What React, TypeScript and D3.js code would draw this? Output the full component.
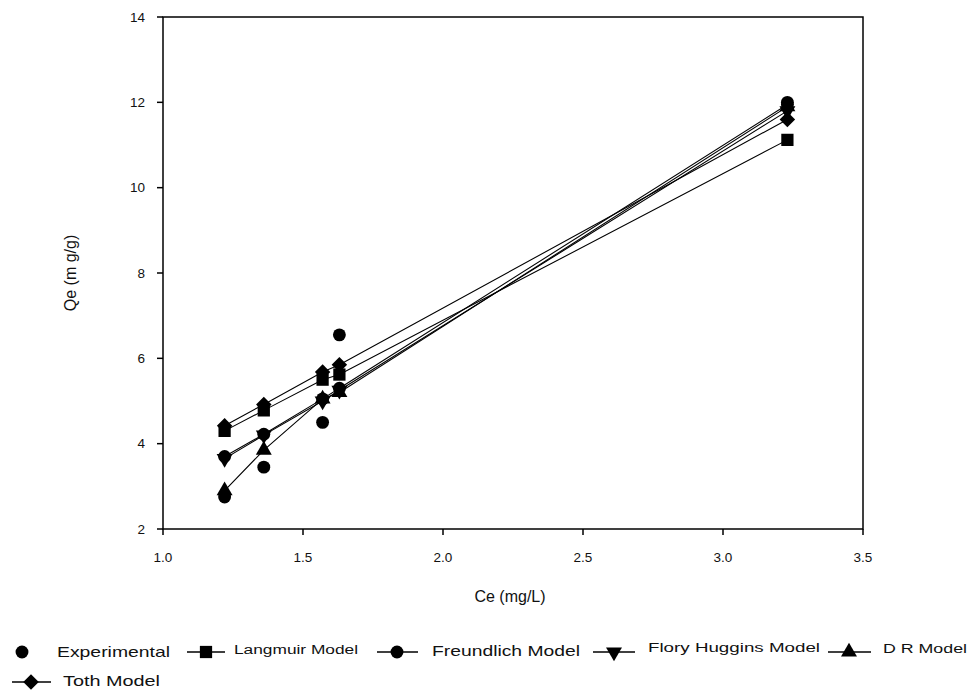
import React from "react";
import * as d3 from "d3";

const ceValues = [1.22, 1.36, 1.57, 1.63, 3.23];
const experimental = [2.75, 3.45, 4.5, 6.55, 12.0];
const langmuir = [4.3, 4.78, 5.5, 5.62, 11.12];
const freundlich = [3.7, 4.22, 5.05, 5.3, 11.95];
const floryHuggins = [3.65, 4.2, 5.0, 5.25, 11.8];
const drModel = [2.9, 3.85, 5.05, 5.2, 11.9];
const toth = [4.42, 4.92, 5.68, 5.85, 11.6];
const xTicks = [1.0, 1.5, 2.0, 2.5, 3.0, 3.5];
const yTicks = [2, 4, 6, 8, 10, 12, 14];

type Shape = "circle" | "square" | "triangle" | "invtriangle" | "diamond";

const series: { name: string; values: number[]; shape: Shape; line: boolean }[] = [
  { name: "Experimental", values: experimental, shape: "circle", line: false },
  { name: "Langmuir Model", values: langmuir, shape: "square", line: true },
  { name: "Freundlich Model", values: freundlich, shape: "circle", line: true },
  { name: "Flory Huggins Model", values: floryHuggins, shape: "invtriangle", line: true },
  { name: "D R Model", values: drModel, shape: "triangle", line: true },
  { name: "Toth Model", values: toth, shape: "diamond", line: true },
];

const symbolPath = (shape: Shape) => {
  switch (shape) {
    case "circle":
      return { d: d3.symbol(d3.symbolCircle, 130)() as string, rot: 0 };
    case "square":
      return { d: d3.symbol(d3.symbolSquare, 150)() as string, rot: 0 };
    case "triangle":
      return { d: d3.symbol(d3.symbolTriangle, 110)() as string, rot: 0 };
    case "invtriangle":
      return { d: d3.symbol(d3.symbolTriangle, 110)() as string, rot: 180 };
    case "diamond":
      return { d: d3.symbol(d3.symbolSquare, 120)() as string, rot: 45 };
  }
};

const Marker = ({ x, y, shape }: { x: number; y: number; shape: Shape }) => {
  const s = symbolPath(shape);
  return <path d={s.d} transform={`translate(${x},${y}) rotate(${s.rot})`} fill="#000" />;
};

const legendItems = [
  { idx: 0, sym: 22, lineFrom: 0, lineTo: 0, tx: 57, tw: 113, fs: 15, y: 652 },
  { idx: 1, sym: 206, lineFrom: 187, lineTo: 225, tx: 234, tw: 124, fs: 12, y: 650 },
  { idx: 2, sym: 397, lineFrom: 377, lineTo: 418, tx: 432, tw: 148, fs: 15, y: 651 },
  { idx: 3, sym: 614, lineFrom: 593, lineTo: 635, tx: 648, tw: 172, fs: 12, y: 648 },
  { idx: 4, sym: 849, lineFrom: 828, lineTo: 871, tx: 883, tw: 84, fs: 13, y: 648 },
  { idx: 5, sym: 31, lineFrom: 12, lineTo: 51, tx: 63, tw: 97, fs: 15, y: 681 },
];

export default function App() {
  const W = 974;
  const H = 692;
  const left = 163, right = 863, top = 17, bottom = 529;
  const x = d3.scaleLinear().domain([1.0, 3.5]).range([left, right]);
  const y = d3.scaleLinear().domain([2, 14]).range([bottom, top]);
  const line = d3
    .line<number>()
    .x((_, i) => x(ceValues[i]))
    .y((v) => y(v));

  return (
    <svg
      width={W}
      height={H}
      style={{ position: "absolute", left: 0, top: 0, background: "#fff" }}
      fontFamily="'Liberation Sans', Arial, sans-serif"
    >
      <rect x={0} y={0} width={W} height={H} fill="#fff" />
      <rect x={left} y={top} width={right - left} height={bottom - top} fill="none" stroke="#000" strokeWidth={1.5} />
      {yTicks.map((t) => (
        <g key={"y" + t}>
          <line x1={left - 6} x2={left} y1={y(t)} y2={y(t)} stroke="#000" strokeWidth={1.5} />
          <text x={left - 18} y={y(t)} dy="0.35em" textAnchor="end" fontSize={13.5} fill="#111">
            {t}
          </text>
        </g>
      ))}
      {xTicks.map((t) => (
        <g key={"x" + t}>
          <line x1={x(t)} x2={x(t)} y1={bottom} y2={bottom + 6} stroke="#000" strokeWidth={1.5} />
          <text x={x(t)} y={bottom + 33} textAnchor="middle" fontSize={13.5} fill="#111">
            {t.toFixed(1)}
          </text>
        </g>
      ))}
      <text x={510} y={602} textAnchor="middle" fontSize={16} fill="#111">
        Ce (mg/L)
      </text>
      <text transform={`translate(76,273) rotate(-90)`} textAnchor="middle" fontSize={16} fill="#111">
        Qe (m g/g)
      </text>
      {series.filter((s) => s.line).map((s) => (
        <path key={"l" + s.name} d={line(s.values) as string} fill="none" stroke="#000" strokeWidth={1.1} />
      ))}
      {series.map((s) =>
        s.values.map((v, i) => <Marker key={s.name + i} x={x(ceValues[i])} y={y(v)} shape={s.shape} />)
      )}
      {legendItems.map((it) => {
        const s = series[it.idx];
        const cy = it.idx === 5 ? 682 : 652;
        return (
          <g key={"lg" + it.idx}>
            {s.line && <line x1={it.lineFrom} x2={it.lineTo} y1={cy} y2={cy} stroke="#000" strokeWidth={1.5} />}
            <Marker x={it.sym} y={cy} shape={s.shape} />
            <text
              x={it.tx}
              y={it.y}
              dy="0.35em"
              fontSize={it.fs}
              textLength={it.tw}
              lengthAdjust="spacingAndGlyphs"
              fill="#111"
            >
              {s.name}
            </text>
          </g>
        );
      })}
    </svg>
  );
}
